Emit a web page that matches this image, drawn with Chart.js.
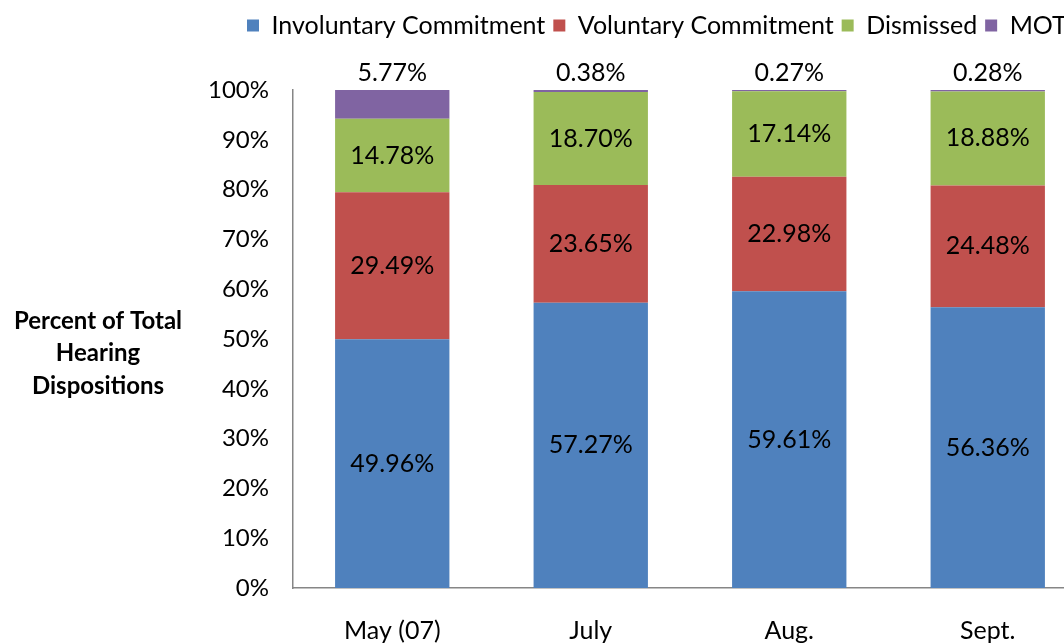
<!DOCTYPE html>
<html>
<head>
<meta charset="utf-8">
<script src="https://cdn.jsdelivr.net/npm/chart.js@4.4.0/dist/chart.umd.min.js"></script>
<style>
  body { margin: 0; overflow: hidden; background: #fff; }
  #wrap { width: 1100px; height: 643px; }
</style>
</head>
<body>
<div id="wrap"><canvas id="myChart"></canvas></div>
<script>
const months = ['May (07)', 'July', 'Aug.', 'Sept.'];
const involuntary = [49.96, 57.27, 59.61, 56.36];
const voluntary = [29.49, 23.65, 22.98, 24.48];
const dismissed = [14.78, 18.70, 17.14, 18.88];
const mot = [5.77, 0.38, 0.27, 0.28];
const yTitle = ['Percent of Total', 'Hearing', 'Dispositions'];

const FONT = 'Lato';

// push the legend over and leave room under it
const legendPlace = {
    id: 'legendPlace',
    beforeInit(chart) {
        const fit = chart.legend.fit;
        chart.legend.fit = function () {
            fit.bind(chart.legend)();
            this.height += 42;
        };
    },
    afterLayout(chart) {
        const lg = chart.legend;
        const w = lg.right - lg.left;
        lg.left = 239;
        lg.right = lg.left + w;
    }
};

// values on the bars, MOT above the stack
const barLabels = {
    id: 'barLabels',
    afterDatasetsDraw(chart) {
        const ctx = chart.ctx;
        ctx.save();
        ctx.font = '25px ' + FONT;
        ctx.fillStyle = '#000';
        ctx.textAlign = 'center';
        ctx.textBaseline = 'middle';
        chart.data.datasets.forEach((ds, i) => {
            const meta = chart.getDatasetMeta(i);
            meta.data.forEach((bar, j) => {
                const txt = ds.data[j].toFixed(2) + '%';
                let y = (bar.y + bar.base) / 2;
                if (i === 3) y = bar.y - 17;
                ctx.fillText(txt, bar.x, y);
            });
        });
        ctx.restore();
    }
};

// horizontal y axis title on the left
const sideTitle = {
    id: 'sideTitle',
    afterDraw(chart) {
        const ctx = chart.ctx;
        ctx.save();
        ctx.font = 'bold 24px ' + FONT;
        ctx.fillStyle = '#000';
        ctx.textAlign = 'center';
        ctx.textBaseline = 'middle';
        yTitle.forEach((t, i) => ctx.fillText(t, 98, 321 + i * 32.5));
        ctx.restore();
    }
};

new Chart(document.getElementById('myChart'), {
    type: 'bar',
    data: {
        labels: months,
        datasets: [
            { label: 'Involuntary Commitment', data: involuntary, backgroundColor: '#4F81BD' },
            { label: 'Voluntary Commitment', data: voluntary, backgroundColor: '#C0504D' },
            { label: 'Dismissed', data: dismissed, backgroundColor: '#9BBB59' },
            { label: 'MOT', data: mot, backgroundColor: '#8064A2' }
        ]
    },
    options: {
        responsive: true,
        maintainAspectRatio: false,
        animation: false,
        barPercentage: 0.576,
        categoryPercentage: 1,
        layout: { padding: { top: 5, right: 13, left: 0, bottom: 0 } },
        plugins: {
            legend: {
                position: 'top',
                align: 'start',
                labels: {
                    boxWidth: 12,
                    boxHeight: 12,
                    padding: 8,
                    color: '#000',
                    font: { family: FONT, size: 25 }
                }
            },
            tooltip: { enabled: false }
        },
        scales: {
            x: {
                stacked: true,
                grid: { display: false, drawTicks: false },
                border: { display: true, color: '#868686', width: 1.5 },
                ticks: { color: '#000', padding: 28, font: { family: FONT, size: 25 } },
                afterFit(scale) { scale.height = 55; }
            },
            y: {
                stacked: true,
                min: 0,
                max: 100,
                grid: { display: false, drawTicks: false },
                border: { display: true, color: '#868686', width: 1.5 },
                ticks: {
                    stepSize: 10,
                    padding: 24,
                    color: '#000',
                    font: { family: FONT, size: 24 },
                    callback: v => v + '%'
                },
                afterFit(scale) { scale.width = 293; }
            }
        }
    },
    plugins: [legendPlace, barLabels, sideTitle]
});
</script>
</body>
</html>
